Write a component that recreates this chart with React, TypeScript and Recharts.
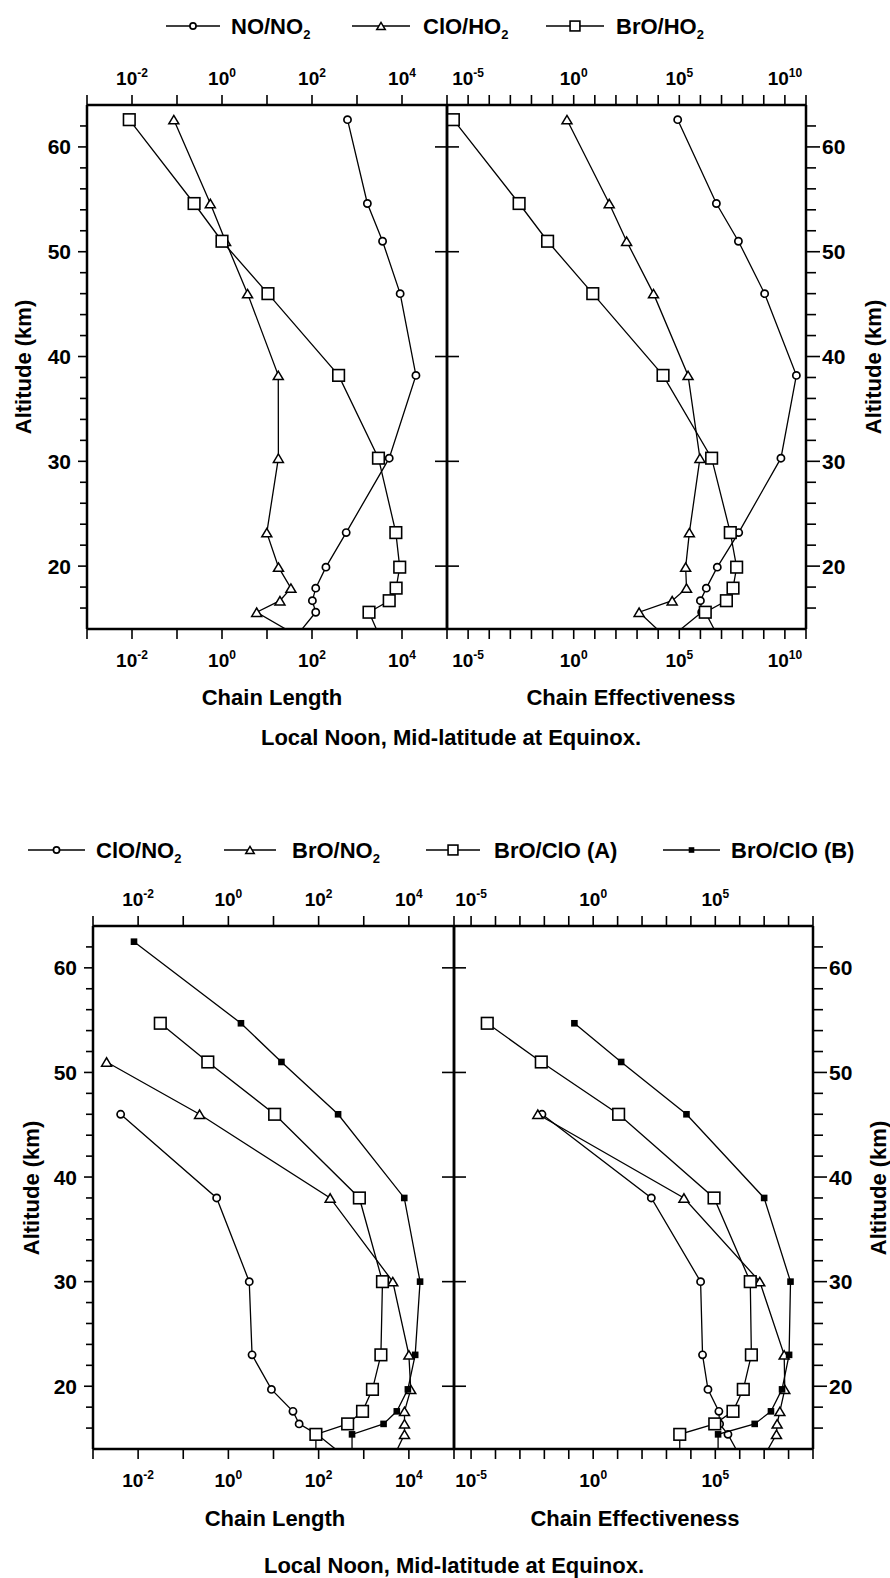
import React from "react";
import { ScatterChart, Scatter, XAxis, YAxis } from "recharts";

const FONT = "'Liberation Sans', Arial, Helvetica, sans-serif";
const W = 890;

// altitude grid (km); the last level sits under the frame so the profiles run off the bottom
const altUpper = [62.6, 54.6, 51.0, 46.0, 38.2, 30.3, 23.2, 19.9, 17.9, 16.7, 15.6, 13.0];
const altLower = [62.5, 54.7, 51.0, 46.0, 38.0, 30.0, 23.0, 19.7, 17.6, 16.4, 15.4, 13.0];

// upper figure: chain length
const noNo2Len = [615, 1700, 3700, 9100, 20400, 5200, 575, 204, 121, 102, 121, 39];
const cloHo2Len = [0.085, 0.55, 1.2, 3.7, 17.8, 17.9, 9.9, 18, 34, 19.4, 5.9, 65];
const broHo2Len = [0.0087, 0.24, 1.0, 10.5, 390, 3000, 7300, 8900, 7400, 5200, 1850, 3400];

// upper figure: chain effectiveness
const noNo2Eff = [8.4e4, 5.7e6, 6.3e7, 1.1e9, 3.5e10, 6.5e9, 6.5e7, 6.3e6, 1.9e6, 1e6, 1.15e6, 3e4];
const cloHo2Eff = [0.48, 48, 320, 6000, 2.6e5, 9.5e5, 3e5, 2e5, 2.2e5, 4.6e4, 1250, 3e4];
const broHo2Eff = [2e-6, 0.0026, 0.058, 8, 1.7e4, 3.4e6, 2.6e7, 5.2e7, 3.5e7, 1.7e7, 1.7e6, 8e6];

// lower figure: chain length
const cloNo2Len = [null, null, null, 0.0041, 0.55, 2.9, 3.35, 9, 27, 37, 92, 460];
const broNo2Len = [null, null, 0.002, 0.23, 180, 4400, 10000, 11000, 8000, 8000, 8000, 4300];
const broCloALen = [null, 0.031, 0.35, 10.6, 800, 2600, 2400, 1560, 940, 440, 87, 87];
const broCloBLen = [0.0081, 1.9, 15, 270, 7900, 17700, 13800, 9500, 5400, 2750, 550, 550];

// lower figure: chain effectiveness
const cloNo2Eff = [null, null, null, 0.008, 240, 2.5e4, 3e4, 5e4, 1.4e5, 1.5e5, 3.3e5, 1.2e6];
const broNo2Eff = [null, null, null, 0.0054, 5200, 6.6e6, 6.6e7, 7e7, 4.4e7, 3.4e7, 3.2e7, 8.3e6];
const broCloAEff = [null, 4.6e-5, 0.0075, 11, 8.9e4, 2.7e6, 3e6, 1.4e6, 5.3e5, 9.5e4, 3500, 3500];
const broCloBEff = [null, 0.17, 14, 6600, 1e7, 1.2e8, 1.05e8, 5.4e7, 1.9e7, 4.1e6, 1.3e5, 1.3e5];

const upperNames = ["NO/NO2", "ClO/HO2", "BrO/HO2"];
const lowerNames = ["ClO/NO2", "BrO/NO2", "BrO/ClO (A)", "BrO/ClO (B)"];

// axes
const lengthDomain: [number, number] = [1e-3, 1e5];
const lengthTicks = [1e-3, 1e-2, 1e-1, 1, 10, 100, 1e3, 1e4, 1e5];
const lengthLabels = [-2, 0, 2, 4];
const effUpperDomain: [number, number] = [1e-6, 1e11];
const effUpperTicks = [1e-5, 1e-4, 1e-3, 1e-2, 1e-1, 1, 10, 100, 1e3, 1e4, 1e5, 1e6, 1e7, 1e8, 1e9, 1e10, 1e11];
const effUpperLabels = [-5, 0, 5, 10];
const effLowerDomain: [number, number] = [2e-6, 1e9];
const effLowerTicks = [1e-5, 1e-4, 1e-3, 1e-2, 1e-1, 1, 10, 100, 1e3, 1e4, 1e5, 1e6, 1e7, 1e8, 1e9];
const effLowerLabels = [-5, 0, 5];
const altDomain: [number, number] = [14, 64];
const altTicks = [16, 18, 20, 22, 24, 26, 28, 30, 32, 34, 36, 38, 40, 42, 44, 46, 48, 50, 52, 54, 56, 58, 60, 62];

type Kind = "circle" | "triangle" | "square" | "filled";
type Pt = { v: number; alt: number };
type Series = { kind: Kind; points: Pt[] };
type YMode = "left" | "right" | "cross" | "none";

const toPoints = (alts: number[], vals: (number | null)[]): Pt[] =>
  alts.map((alt, i) => ({ v: vals[i] as number, alt })).filter((p) => p.v != null);

function Marker({ kind, cx, cy, small }: { kind: Kind; cx: number; cy: number; small?: boolean }) {
  const k = small ? 0.85 : 1;
  if (kind === "circle")
    return <circle cx={cx} cy={cy} r={3.6 * k} fill="#fff" stroke="#000" strokeWidth={1.7} />;
  if (kind === "triangle") {
    const w = 5 * k;
    const h = 4.2 * k;
    return (
      <polygon
        points={`${cx - w},${cy + h} ${cx + w},${cy + h} ${cx},${cy - h}`}
        fill="#fff"
        stroke="#000"
        strokeWidth={1.5}
      />
    );
  }
  if (kind === "square") {
    const s = 5.8 * k;
    return <rect x={cx - s} y={cy - s} width={2 * s} height={2 * s} fill="#fff" stroke="#000" strokeWidth={1.6} />;
  }
  const s = 3.3 * k;
  return <rect x={cx - s} y={cy - s} width={2 * s} height={2 * s} fill="#000" />;
}

function XTick(p: any) {
  const { x, y, payload, side, labels } = p;
  const exp = Math.round(Math.log10(payload.value));
  const d = side === "top" ? -1 : 1;
  return (
    <g>
      <line x1={x} y1={y} x2={x} y2={y + d * 10} stroke="#000" strokeWidth={1.6} />
      {labels.includes(exp) && (
        <text
          x={x}
          y={side === "top" ? y - 20 : y + 38}
          textAnchor="middle"
          fontFamily={FONT}
          fontWeight={700}
          fontSize={19}
          fill="#000"
        >
          10<tspan fontSize={12} dy={-8}>{exp}</tspan>
        </text>
      )}
    </g>
  );
}

function YTick(p: any) {
  const { x, y, payload, mode } = p;
  const v = payload.value;
  const major = v % 10 === 0;
  if (mode === "none") return <g />;
  if (mode === "cross")
    return major ? <line x1={x - 12} x2={x + 12} y1={y} y2={y} stroke="#000" strokeWidth={1.6} /> : <g />;
  const d = mode === "left" ? -1 : 1;
  const len = mode === "left" ? (major ? 9 : 7) : major ? 14 : 10;
  return (
    <g>
      <line x1={x} x2={x + d * len} y1={y} y2={y} stroke="#000" strokeWidth={1.6} />
      {major && (
        <text
          x={x + d * 16}
          y={y}
          dy="0.36em"
          textAnchor={d < 0 ? "end" : "start"}
          fontFamily={FONT}
          fontWeight={700}
          fontSize={21}
          fill="#000"
        >
          {v}
        </text>
      )}
    </g>
  );
}

const AXIS = { stroke: "#000", strokeWidth: 2.5 };

function Panel(props: {
  top: number;
  height: number;
  x0: number;
  x1: number;
  y0: number;
  y1: number;
  domain: [number, number];
  ticks: number[];
  labels: number[];
  leftMode: YMode;
  rightMode: YMode;
  series: Series[];
}) {
  const { top, height, x0, x1, y0, y1, domain, ticks, labels, leftMode, rightMode, series } = props;
  // axes get a 1px band (a zero-size axis is not drawn); margins make up for it
  const xCommon = {
    type: "number" as const,
    dataKey: "v",
    scale: "log" as const,
    domain,
    allowDataOverflow: true,
    ticks,
    interval: 0 as const,
    height: 1,
    tickSize: 0,
    tickMargin: 0,
    tickLine: false,
    axisLine: AXIS,
  };
  const yCommon = {
    type: "number" as const,
    dataKey: "alt",
    domain: altDomain,
    allowDataOverflow: true,
    ticks: altTicks,
    interval: 0 as const,
    width: 1,
    tickSize: 0,
    tickMargin: 0,
    tickLine: false,
    axisLine: AXIS,
  };
  return (
    <div style={{ position: "absolute", left: 0, top }}>
      <ScatterChart
        width={W}
        height={height}
        margin={{ top: y0 - top - 1, bottom: top + height - y1 - 1, left: x0 - 1, right: W - x1 - 1 }}
      >
        <XAxis {...xCommon} xAxisId="top" orientation="top" tick={(p: any) => <XTick {...p} side="top" labels={labels} />} />
        <XAxis {...xCommon} xAxisId="bottom" orientation="bottom" tick={(p: any) => <XTick {...p} side="bottom" labels={labels} />} />
        <YAxis {...yCommon} yAxisId="left" orientation="left" tick={(p: any) => <YTick {...p} mode={leftMode} />} />
        <YAxis {...yCommon} yAxisId="right" orientation="right" tick={(p: any) => <YTick {...p} mode={rightMode} />} />
        {series.map((s, i) => (
          <Scatter
            key={i}
            xAxisId="bottom"
            yAxisId="left"
            data={s.points}
            fill="#000"
            line={{ stroke: "#000", strokeWidth: 1.3 }}
            lineJointType="linear"
            shape={(p: any) => <Marker kind={s.kind} cx={p.cx} cy={p.cy} />}
            isAnimationActive={false}
          />
        ))}
      </ScatterChart>
    </div>
  );
}

function Name({ x, y, name }: { x: number; y: number; name: string }) {
  const hasSub = /2$/.test(name);
  return (
    <text x={x} y={y} fontFamily={FONT} fontWeight={700} fontSize={22} fill="#000">
      {hasSub ? name.slice(0, -1) : name}
      {hasSub && (
        <tspan fontSize={13} dy={5}>
          2
        </tspan>
      )}
    </text>
  );
}

function LegendItem({ a, b, tx, y, kind, name }: { a: number; b: number; tx: number; y: number; kind: Kind; name: string }) {
  return (
    <g>
      <line x1={a} x2={b} y1={y} y2={y} stroke="#000" strokeWidth={1.5} />
      <Marker kind={kind} cx={(a + b) / 2} cy={y} small />
      <Name x={tx} y={y + 8} name={name} />
    </g>
  );
}

function Label({ x, y, text, size = 22, rotate }: { x: number; y: number; text: string; size?: number; rotate?: boolean }) {
  return (
    <text
      x={x}
      y={y}
      textAnchor="middle"
      fontFamily={FONT}
      fontWeight={700}
      fontSize={size}
      fill="#000"
      transform={rotate ? `rotate(-90 ${x} ${y})` : undefined}
    >
      {text}
    </text>
  );
}

const upperKinds: Kind[] = ["circle", "triangle", "square"];
const lowerKinds: Kind[] = ["circle", "triangle", "square", "filled"];

export default function App() {
  const upperLen = [noNo2Len, cloHo2Len, broHo2Len].map((v, i) => ({ kind: upperKinds[i], points: toPoints(altUpper, v) }));
  const upperEff = [noNo2Eff, cloHo2Eff, broHo2Eff].map((v, i) => ({ kind: upperKinds[i], points: toPoints(altUpper, v) }));
  const lowerLen = [cloNo2Len, broNo2Len, broCloALen, broCloBLen].map((v, i) => ({ kind: lowerKinds[i], points: toPoints(altLower, v) }));
  const lowerEff = [cloNo2Eff, broNo2Eff, broCloAEff, broCloBEff].map((v, i) => ({ kind: lowerKinds[i], points: toPoints(altLower, v) }));

  const upperLegend = [
    [166, 220, 231],
    [352, 410, 423],
    [546, 604, 616],
  ];
  const lowerLegend = [
    [28, 85, 96],
    [224, 276, 292],
    [426, 480, 494],
    [663, 720, 731],
  ];

  return (
    <div style={{ position: "absolute", left: 0, top: 0, width: W, height: 1578, background: "#fff", overflow: "hidden" }}>
      <Panel top={0} height={760} x0={87} x1={447} y0={105} y1={629} domain={lengthDomain} ticks={lengthTicks} labels={lengthLabels} leftMode="left" rightMode="cross" series={upperLen} />
      <Panel top={0} height={760} x0={447} x1={806} y0={105} y1={629} domain={effUpperDomain} ticks={effUpperTicks} labels={effUpperLabels} leftMode="none" rightMode="right" series={upperEff} />
      <Panel top={780} height={798} x0={93} x1={454} y0={926} y1={1449} domain={lengthDomain} ticks={lengthTicks} labels={lengthLabels} leftMode="left" rightMode="cross" series={lowerLen} />
      <Panel top={780} height={798} x0={454} x1={813} y0={926} y1={1449} domain={effLowerDomain} ticks={effLowerTicks} labels={effLowerLabels} leftMode="none" rightMode="right" series={lowerEff} />
      <svg width={W} height={1578} style={{ position: "absolute", left: 0, top: 0, pointerEvents: "none" }}>
        {upperNames.map((n, i) => (
          <LegendItem key={n} a={upperLegend[i][0]} b={upperLegend[i][1]} tx={upperLegend[i][2]} y={26} kind={upperKinds[i]} name={n} />
        ))}
        {lowerNames.map((n, i) => (
          <LegendItem key={n} a={lowerLegend[i][0]} b={lowerLegend[i][1]} tx={lowerLegend[i][2]} y={850} kind={lowerKinds[i]} name={n} />
        ))}
        <Label x={31} y={367} text="Altitude (km)" rotate />
        <Label x={881} y={367} text="Altitude (km)" rotate />
        <Label x={272} y={705} text="Chain Length" />
        <Label x={631} y={705} text="Chain Effectiveness" />
        <Label x={451} y={745} text="Local Noon, Mid-latitude at Equinox." />
        <Label x={39} y={1188} text="Altitude (km)" rotate />
        <Label x={886} y={1188} text="Altitude (km)" rotate />
        <Label x={275} y={1526} text="Chain Length" />
        <Label x={635} y={1526} text="Chain Effectiveness" />
        <Label x={454} y={1573} text="Local Noon, Mid-latitude at Equinox." />
      </svg>
    </div>
  );
}
